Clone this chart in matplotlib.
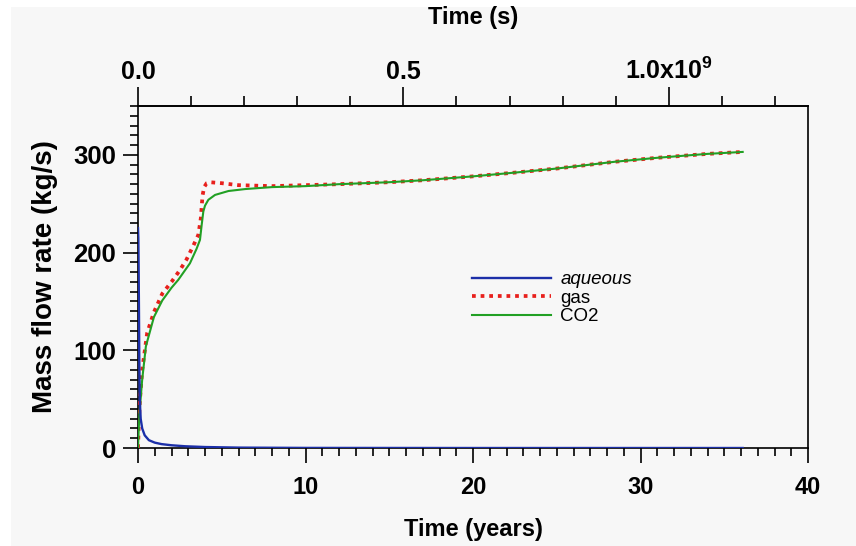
import matplotlib
matplotlib.use("Agg")
import matplotlib.pyplot as plt
from matplotlib.patches import Rectangle
from matplotlib.ticker import MultipleLocator, FixedLocator, FixedFormatter

plt.rcParams['font.family'] = ['Liberation Sans', 'DejaVu Sans']
plt.rcParams['mathtext.fontset'] = 'custom'
plt.rcParams['mathtext.rm'] = 'Liberation Sans:bold'
plt.rcParams['mathtext.bf'] = 'Liberation Sans:bold'
plt.rcParams['mathtext.it'] = 'Liberation Sans:bold'

# ---------------- data ----------------
aq_t = [0.0, 0.02, 0.04, 0.06, 0.08, 0.11, 0.16, 0.25, 0.4, 0.65, 1.0, 1.4, 2.0, 2.8, 4.0, 6.0, 10.0, 20.0, 36.1]
aq_v = [225, 215, 180, 135, 85, 48, 30, 20, 13, 8, 5.5, 4, 2.8, 1.8, 1.0, 0.4, 0.1, 0.0, 0.0]

gas_t = [0.0, 0.05, 0.1, 0.25, 0.55, 0.95, 1.45, 2.0, 2.5, 2.9, 3.3, 3.6, 3.75, 3.85, 3.95, 4.1, 4.3, 5.0, 6.0, 8.0,
         10.0, 12.0, 15.0, 17.0, 20.0, 22.6, 25.0, 28.5, 31.0, 34.0, 36.1]
gas_v = [0, 25, 45, 80, 118, 139, 158, 170, 182, 193, 207, 218, 235, 258, 267, 271, 272, 271, 269, 268,
         269, 270, 272, 274, 278, 282, 286, 293, 297, 301, 303]

co2_t = [0.0, 0.05, 0.1, 0.25, 0.47, 0.95, 1.45, 2.0, 2.4, 3.1, 3.5, 3.7, 3.8, 3.9, 4.0, 4.2, 4.6, 5.4, 6.4, 8.0,
         10.0, 12.0, 15.0, 17.0, 20.0, 22.6, 25.0, 28.5, 31.0, 34.0, 36.1]
co2_v = [0, 22, 38, 70, 104, 134, 151, 164, 172, 189, 204, 213, 228, 242, 248, 254, 259, 263, 265, 267,
         268, 270, 272, 274, 278, 282, 286, 293, 297, 301, 303]

series_labels = ["aqueous", "gas", "CO2"]
x_ticks = [0, 10, 20, 30, 40]
y_ticks = [0, 100, 200, 300]
top_ticks_s = [0.0, 0.5e9, 1.0e9]
top_tick_labels = ["0.0", "0.5", "1.0x10$^{9}$"]
SEC_PER_YEAR = 365.25 * 86400.0

# ---------------- figure ----------------
W, H = 856, 546
fig = plt.figure(figsize=(W / 100, H / 100), dpi=100, facecolor='white')
fig.patches.append(Rectangle((11 / W, 0), 1 - 11 / W, 1 - 7 / H, transform=fig.transFigure,
                             facecolor='#f7f7f7', edgecolor='none', zorder=-10))

ax = fig.add_axes([138 / W, 1 - 448 / H, (808 - 138) / W, (448 - 106) / H])
ax.set_facecolor('#f7f7f7')

l_gas, = ax.plot(gas_t, gas_v, color='#e8201c', lw=2.7, dashes=(1.0, 1.3), label=series_labels[1], zorder=3)
l_co2, = ax.plot(co2_t, co2_v, color='#22a024', lw=1.5, label=series_labels[2], zorder=4)
l_aq, = ax.plot(aq_t, aq_v, color='#1c2fa8', lw=1.7, label=series_labels[0], zorder=5)

ax.set_xlim(0, 40)
ax.set_ylim(0, 350)

for s in ax.spines.values():
    s.set_linewidth(1.2)
    s.set_color('black')

ax.xaxis.set_major_locator(FixedLocator(x_ticks))
ax.xaxis.set_minor_locator(MultipleLocator(1))
ax.yaxis.set_major_locator(FixedLocator(y_ticks))
ax.yaxis.set_minor_locator(MultipleLocator(10))
ax.tick_params(axis='both', which='major', direction='out', length=11, width=1.2, color='black', pad=6)
ax.tick_params(axis='both', which='minor', direction='out', length=6, width=1.2, color='black')
ax.tick_params(axis='x', which='major', pad=9, labelsize=17)
ax.tick_params(axis='y', which='major', labelsize=18.5, pad=5)
ax.tick_params(top=False, right=False, which='both')
for lab in ax.get_xticklabels() + ax.get_yticklabels():
    lab.set_fontweight('bold')

ax.set_xlabel("Time (years)", fontsize=17, fontweight='bold', labelpad=14)
ax.set_ylabel("Mass flow rate (kg/s)", fontsize=20, fontweight='bold', labelpad=11)

# top axis in seconds
sec = ax.secondary_xaxis('top', functions=(lambda y: y * SEC_PER_YEAR, lambda s: s / SEC_PER_YEAR))
sec.xaxis.set_major_locator(FixedLocator(top_ticks_s))
sec.xaxis.set_major_formatter(FixedFormatter(top_tick_labels))
sec.xaxis.set_minor_locator(MultipleLocator(0.1e9))
sec.tick_params(which='major', direction='out', length=14, width=1.2, labelsize=18, pad=2)
sec.tick_params(which='minor', direction='out', length=7, width=1.2)
sec.spines['top'].set_linewidth(1.2)
for lab in sec.get_xticklabels():
    lab.set_fontweight('bold')
sec.set_xlabel("Time (s)", fontsize=17, fontweight='bold', labelpad=24)

leg = ax.legend(handles=[l_aq, l_gas, l_co2], loc='upper left',
                bbox_to_anchor=(472 / W, 1 - 271 / H), bbox_transform=fig.transFigure,
                frameon=False, fontsize=13.5, borderpad=0, borderaxespad=0,
                labelspacing=0.08, handlelength=4.2, handletextpad=0.5)
leg.get_texts()[0].set_fontstyle('italic')

fig.savefig("out.png", dpi=100, facecolor=fig.get_facecolor())
